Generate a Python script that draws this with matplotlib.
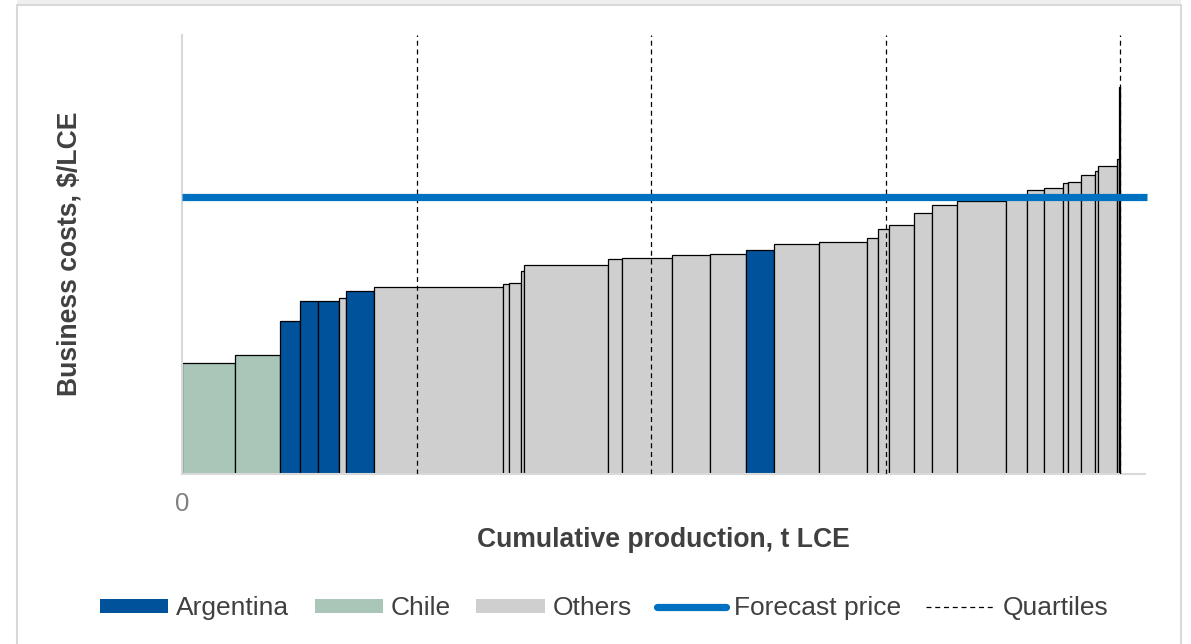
import matplotlib
matplotlib.use("Agg")
import matplotlib.pyplot as plt
from matplotlib.patches import Patch, Rectangle
from matplotlib.lines import Line2D
import numpy as np

plt.rcParams['font.family'] = ['Liberation Sans', 'DejaVu Sans']

# production of each operation (kt LCE) and business cost ($/t LCE), sorted by cost
countries = ['Chile', 'Chile', 'Argentina', 'Argentina', 'Argentina', 'Others', 'Argentina',
             'Others', 'Others', 'Others', 'Others', 'Others', 'Others', 'Others', 'Others',
             'Others', 'Argentina', 'Others', 'Others', 'Others', 'Others', 'Others', 'Others',
             'Others', 'Others', 'Others', 'Others', 'Others', 'Others', 'Others', 'Others',
             'Others', 'Others', 'Others', 'Others']
production = [52.7, 45.6, 19.7, 18.3, 20.7, 6.7, 28.3,
              129.3, 6.0, 11.4, 3.3, 84.0, 14.0, 49.7, 38.3,
              36.0, 28.0, 45.3, 48.0, 11.0, 11.0, 25.0, 17.7,
              25.3, 48.4, 21.6, 16.7, 19.0, 5.3, 13.0, 13.7,
              3.3, 18.7, 1.7, 1.3]
costs = [2775, 2975, 3825, 4325, 4325, 4400, 4575,
         4675, 4750, 4775, 5075, 5225, 5375, 5400, 5475,
         5500, 5600, 5750, 5800, 5900, 6125, 6225, 6525,
         6725, 6825, 6900, 7100, 7150, 7275, 7300, 7475,
         7575, 7700, 7875, 9675]
forecast_price = 6925

colors = {'Argentina': '#00529b', 'Chile': '#a9c6b8', 'Others': '#d0cfd0'}
line_blue = '#0070c0'
text_col = '#404040'

fig = plt.figure(figsize=(11.91, 6.44), dpi=100)
fig.patches.append(Rectangle((17 / 1191, 1 - 4 / 644), 1164 / 1191, 4 / 644,
                             transform=fig.transFigure, facecolor='#efefef',
                             edgecolor='none', zorder=0))
fig.patches.append(Rectangle((17 / 1191, -0.01), 1164 / 1191, 1.01 - 5 / 644,
                             transform=fig.transFigure, facecolor='none',
                             edgecolor='#d9d9d9', lw=1.5, zorder=0))

ax = fig.add_axes([182 / 1191, 1 - 474 / 644, 963 / 1191, 439 / 644])

left = np.concatenate([[0], np.cumsum(production)[:-1]])
total = sum(production)
ax.bar(left, costs, width=production, align='edge',
       color=[colors[c] for c in countries], edgecolor='black', linewidth=0.9, zorder=2)

# quartiles
for q in [0.25, 0.5, 0.75, 1.0]:
    ax.axvline(total * q, color='black', lw=0.9, ls=(0, (4, 3)), zorder=3)

ax.plot([0, 965], [forecast_price, forecast_price], color=line_blue, lw=5.2,
        solid_capstyle='butt', zorder=4, clip_on=False)

ax.set_xlim(0, 963)
ax.set_ylim(0, 10975)
for s in ['top', 'right']:
    ax.spines[s].set_visible(False)
ax.spines['left'].set_color('#d9d9d9')
ax.spines['left'].set_linewidth(1.5)
ax.spines['bottom'].set_color('#d9d9d9')
ax.spines['bottom'].set_linewidth(1.5)
ax.set_yticks([])
ax.set_xticks([0])
ax.set_xticklabels(['0'])
ax.tick_params(axis='x', length=0, pad=13, labelsize=18.5, labelcolor='#808080')

fig.text(663.5 / 1191, 1 - 540 / 644, 'Cumulative production, t LCE', ha='center',
         va='center', fontsize=19.1, fontweight='bold', color=text_col)
fig.text(70 / 1191, 1 - 254 / 644, 'Business costs, $/LCE', ha='center', va='center',
         rotation=90, fontsize=19.1, fontweight='bold', color=text_col)

handles = [Patch(facecolor=colors['Argentina'], edgecolor='none', label='Argentina'),
           Patch(facecolor=colors['Chile'], edgecolor='none', label='Chile'),
           Patch(facecolor=colors['Others'], edgecolor='none', label='Others'),
           Line2D([], [], color=line_blue, lw=5.2, solid_capstyle='round', label='Forecast price'),
           Line2D([], [], color='black', lw=0.9, ls=(0, (4, 3)), label='Quartiles')]
leg = fig.legend(handles=handles, loc='center', bbox_to_anchor=(604 / 1191, 1 - 608 / 644),
                 ncol=5, frameon=False, fontsize=19, handlelength=2.6, handleheight=0.45,
                 handletextpad=0.3, columnspacing=0.95)
for t in leg.get_texts():
    t.set_color(text_col)

fig.savefig('out.png', dpi=100)
